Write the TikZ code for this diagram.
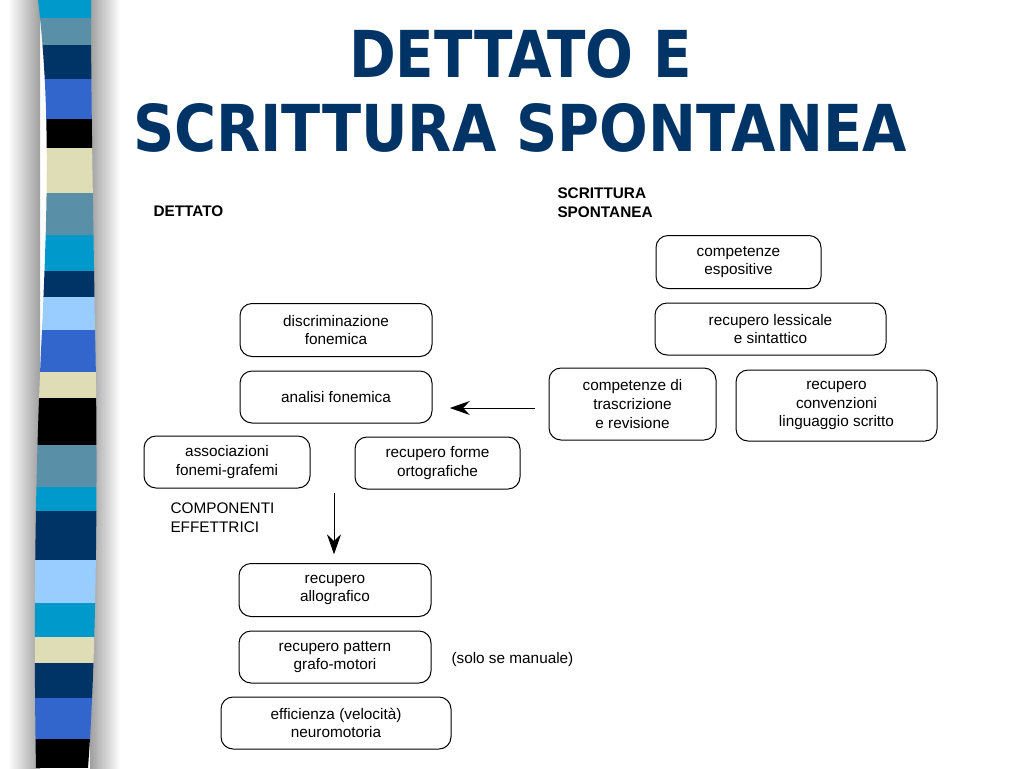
\documentclass[tikz,border=0pt]{standalone}
\usepackage{fontspec}
\setmainfont{Liberation Sans}
\newfontfamily\titolofont{DejaVu Sans}
\usetikzlibrary{arrows.meta}

\definecolor{blunotte}{HTML}{003366}
\definecolor{azzurro}{HTML}{0099CC}
\definecolor{acciaio}{HTML}{5A8FA8}
\definecolor{reale}{HTML}{3366CC}
\definecolor{celeste}{HTML}{99CCFF}
\definecolor{sabbia}{HTML}{DEDDB6}

\begin{document}
\begin{tikzpicture}[x=0.75pt, y=-0.75pt, line width=0.75pt,
    blocco/.style={draw, rounded corners=9pt, align=center, inner sep=2pt,
        font=\fontsize{11.5}{14}\selectfont},
    freccia/.style={-{Stealth[length=15pt, width=10.5pt, inset=5pt]}},
    testo/.style={font=\fontsize{11.5}{14}\selectfont, align=left}]

    \useasboundingbox (0,0) rectangle (1024,768);

    % -- Barra laterale a strisce --
    \shade[left color=white, right color=gray!75] (8,0) rectangle (40,768);
    \shade[left color=gray!75, right color=white] (90,0) rectangle (120,768);

    \begin{scope}
        \clip (38,0) .. controls (50,100) and (48,200) .. (42,330)
                     .. controls (36,450) and (33,600) .. (36,768)
              -- (88,768) .. controls (97,650) and (98,450) .. (95,330)
                     .. controls (93,200) and (91,100) .. (91,0) -- cycle;
        \foreach \ya/\yb/\col in {0/18/azzurro, 18/45/acciaio, 45/79/blunotte,
                79/119/reale, 119/148/black, 148/193/sabbia, 193/235/acciaio,
                235/271/azzurro, 271/297/blunotte, 297/330/celeste, 330/372/reale,
                372/398/sabbia, 398/445/black, 445/487/acciaio, 487/511/azzurro,
                511/560/blunotte, 560/603/celeste, 603/637/azzurro, 637/663/sabbia,
                663/698/blunotte, 698/739/reale, 739/768/black}
            \fill[\col] (20,\ya) rectangle (110,\yb);
    \end{scope}

    % -- Titolo --
    \node[text=blunotte, inner sep=0pt] (titolo1) at (520.5,54)
        {\resizebox{257pt}{36pt}{\titolofont\bfseries DETTATO E}};
    \node[text=blunotte, inner sep=0pt] (titolo2) at (520,127.5)
        {\resizebox{580.5pt}{36pt}{\titolofont\bfseries SCRITTURA SPONTANEA}};

    % -- Parte Sinistra: dettato --
    \node[testo, font=\fontsize{11.5}{14}\selectfont\bfseries, anchor=west, inner sep=0pt] (dettato) at (153,211) {DETTATO};

    \node[blocco, minimum width=144pt, minimum height=39.75pt] (discr) at (336,330) {discriminazione\\fonemica};
    \node[blocco, minimum width=144pt, minimum height=39pt] (analisi) at (336,397) {analisi fonemica};
    \node[blocco, minimum width=124.5pt, minimum height=39pt] (assoc) at (227,462) {associazioni\\fonemi-grafemi};
    \node[blocco, minimum width=123.75pt, minimum height=39pt] (forme) at (437.5,463) {recupero forme\\ortografiche};

    \node[testo, anchor=west, inner sep=0pt] (effettr) at (170,518) {COMPONENTI\\EFFETTRICI};

    \node[blocco, minimum width=144pt, minimum height=39.75pt] (allog) at (335,590) {recupero\\allografico};
    \node[blocco, minimum width=144pt, minimum height=39pt] (pattern) at (335,657) {recupero pattern\\grafo-motori};
    \node[testo, anchor=west, inner sep=0pt] (manuale) at (451,660) {(solo se manuale)};
    \node[blocco, minimum width=172.5pt, minimum height=39pt] (effic) at (336,723) {efficienza (velocità)\\neuromotoria};

    % -- Parte Destra: scrittura spontanea --
    \node[testo, font=\fontsize{11.5}{14}\selectfont\bfseries, anchor=west, inner sep=0pt] (spontanea) at (557,202.5) {SCRITTURA\\SPONTANEA};

    \node[blocco, minimum width=123.75pt, minimum height=39.75pt] (espos) at (738.5,262) {competenze\\espositive};
    \node[blocco, minimum width=173.25pt, minimum height=39pt] (lessic) at (770.5,329) {recupero lessicale\\e sintattico};
    \node[blocco, minimum width=125.25pt, minimum height=54pt] (trascr) at (632.5,404) {competenze di\\trascrizione\\e revisione};
    \node[blocco, minimum width=150.75pt, minimum height=53.25pt] (convenz) at (836.5,405.5) {recupero\\convenzioni\\linguaggio scritto};

    % -- Frecce --
    \draw[freccia, shorten <=10.5pt, shorten >=13pt] ([yshift=-3pt]trascr.west) -- ([yshift=-3pt]trascr.west -| analisi.east);

    \coordinate (partenza) at (334,493);
    \draw[freccia, shorten >=6.5pt] (partenza) -- (partenza |- allog.north);
\end{tikzpicture}
\end{document}
